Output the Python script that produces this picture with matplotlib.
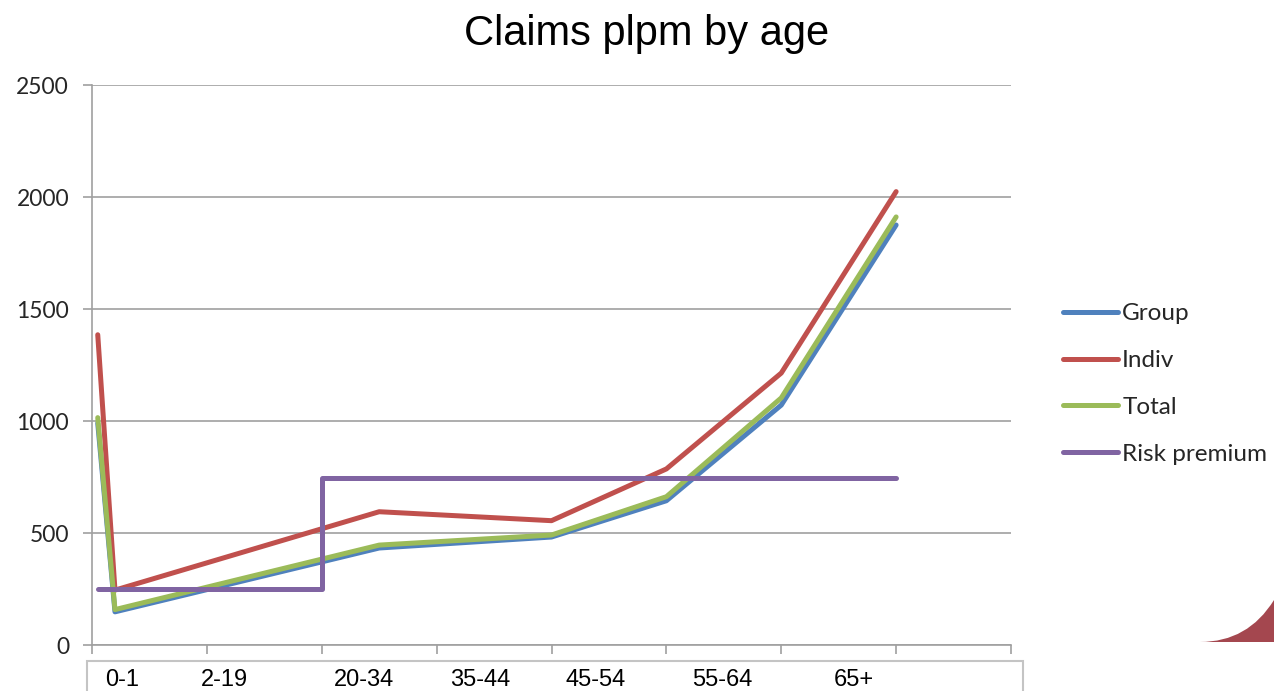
import matplotlib
matplotlib.use('Agg')
import matplotlib.pyplot as plt
import matplotlib.transforms as mtransforms
from matplotlib.patches import Rectangle, PathPatch
from matplotlib.path import Path

# ---- data ----
age_x = [0.5, 2, 25, 40, 50, 60, 70]
group = [990, 148, 433, 482, 644, 1071, 1875]
indiv = [1385, 245, 595, 555, 786, 1214, 2024]
total = [1015, 158, 446, 491, 662, 1103, 1911]
risk_x = [0.5, 20, 70]
risk = [250, 745, 745]
age_labels = ['0-1', '2-19', '20-34', '35-44', '45-54', '55-64', '65+']
label_pos = [2.6, 11.5, 23.7, 33.8, 43.8, 54.9, 66.3]
yticks = [0, 500, 1000, 1500, 2000, 2500]
xticks = [0, 10, 20, 30, 40, 50, 60, 70, 80]

W, H = 1274, 691
fig = plt.figure(figsize=(W / 100, H / 100), dpi=100)
ax = fig.add_axes([92 / W, 46 / H, 919 / W, 560 / H])

lw = 3.6
kw = dict(linewidth=lw, solid_capstyle='round', solid_joinstyle='round')
ax.plot(age_x, group, color='#4F81BD', label='Group', **kw)
ax.plot(age_x, indiv, color='#C0504D', label='Indiv', **kw)
ax.plot(age_x, total, color='#9BBB59', label='Total', **kw)
ax.step(risk_x, risk, where='post', color='#8064A2', label='Risk premium', **kw)

ax.set_xlim(0, 80)
ax.set_ylim(0, 2500)
ax.set_xticks(xticks)
ax.set_xticklabels([])
ax.set_yticks(yticks)
ax.set_yticklabels([str(v) for v in yticks], fontsize=16.5, family='Lato', color='#262626')
grid_c = '#a0a0a0'
ax.yaxis.grid(True, color=grid_c, linewidth=1.2)
ax.set_axisbelow(True)
for s in ['top', 'right']:
    ax.spines[s].set_visible(False)
for s in ['left', 'bottom']:
    ax.spines[s].set_color(grid_c)
    ax.spines[s].set_linewidth(1.2)
ax.tick_params(axis='both', direction='out', length=6.5, width=1.2, color=grid_c)
ax.tick_params(axis='y', pad=10)

# category labels in a box under the axis
trans = mtransforms.blended_transform_factory(ax.transData, fig.transFigure)
for p, t in zip(label_pos, age_labels):
    ax.text(p, 5 / H, t, transform=trans, ha='center', va='baseline',
            fontsize=17, family='Liberation Sans', color='black', clip_on=False)
box = Rectangle((87 / W, -0.05), (1023 - 87) / W, (691 - 661) / H + 0.05,
                transform=fig.transFigure, fill=False, edgecolor='#c4c4c4',
                linewidth=1.5, clip_on=False)
fig.add_artist(box)

# title
fig.text(647 / W, 1 - 45 / H, 'Claims plpm by age', ha='center', va='baseline',
         fontsize=30, family='Liberation Sans', color='black')

# legend
leg = ax.legend(loc='center left', bbox_to_anchor=(1041 / W, 1 - 384 / H),
                bbox_transform=fig.transFigure, frameon=False,
                prop={'family': 'Lato', 'size': 17.5}, handlelength=2.26,
                handletextpad=0.18, labelspacing=1.06)
for t in leg.get_texts():
    t.set_color('#262626')

# decorative corner shape
pts = [(1200, 642), (1248, 642), (1274, 600), (1274, 642), (1200, 642)]
codes = [Path.MOVETO, Path.CURVE3, Path.CURVE3, Path.LINETO, Path.CLOSEPOLY]
verts = [(x / W, 1 - y / H) for x, y in pts]
fig.add_artist(PathPatch(Path(verts, codes), transform=fig.transFigure,
                         facecolor='#A4474F', edgecolor='none', clip_on=False))

fig.savefig('out.png', dpi=100)
